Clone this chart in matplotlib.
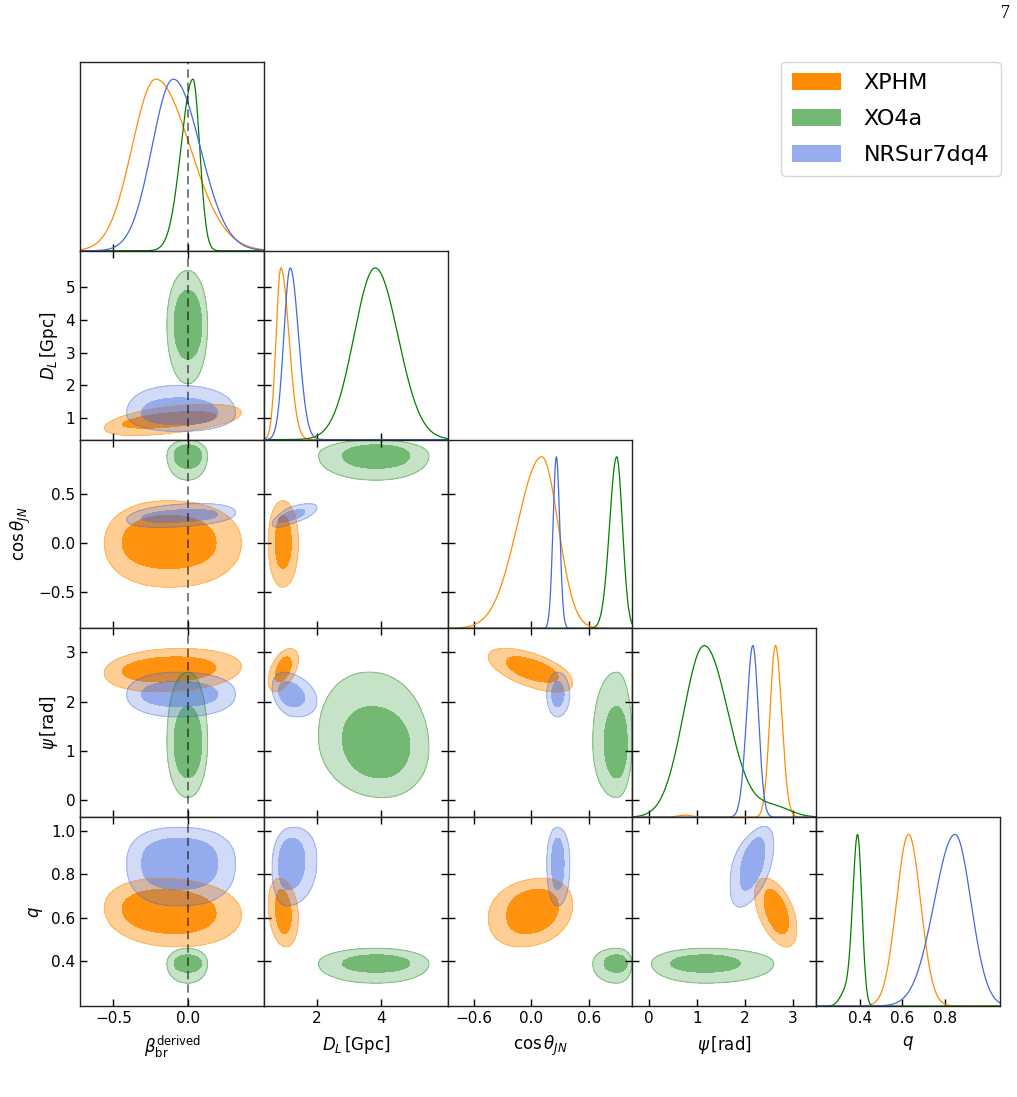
import numpy as np
import matplotlib
matplotlib.use('Agg')
import matplotlib.pyplot as plt
from matplotlib.patches import Patch

# ---------------- data ----------------
LABELS = [r'$\beta_{\rm br}^{\rm derived}$', r'$D_L\,[\mathrm{Gpc}]$',
          r'$\cos\theta_{JN}$', r'$\psi\,[\mathrm{rad}]$', r'$q$']
LIMITS = [(-0.724, 0.513), (0.35, 6.1), (-0.87, 1.053), (-0.35, 3.49), (0.195, 1.062)]
XTICKS = [[-0.5, 0.0], [2, 4], [-0.6, 0.0, 0.6], [0, 1, 2, 3], [0.4, 0.6, 0.8]]
YTICKS = [[], [1, 2, 3, 4, 5], [-0.5, 0.0, 0.5], [0, 1, 2, 3], [0.4, 0.6, 0.8, 1.0]]

MODELS = ['XPHM', 'XO4a', 'NRSur7dq4']
COLORS = ['darkorange', 'green', 'royalblue']

# 1D marginals: mode, left width, right width
XPHM_MODE = [-0.215, 0.875, 0.108, 2.636, 0.629]
XPHM_SLO = [0.159, 0.15, 0.255, 0.115, 0.057]
XPHM_SHI = [0.23, 0.25, 0.17, 0.13, 0.057]
XO4A_MODE = [0.035, 3.82, 0.89, 1.15, 0.389]
XO4A_SLO = [0.08, 0.66, 0.074, 0.43, 0.023]
XO4A_SHI = [0.045, 0.71, 0.06, 0.5, 0.02]
NRSUR_MODE = [-0.097, 1.166, 0.26, 2.165, 0.848]
NRSUR_SLO = [0.143, 0.2, 0.035, 0.13, 0.098]
NRSUR_SHI = [0.18, 0.26, 0.035, 0.115, 0.075]
# secondary bumps in the 1D marginals: (model, param, centre, width, amplitude)
BUMPS = [(0, 3, 0.75, 0.15, 0.012), (1, 3, 2.6, 0.35, 0.06), (1, 4, 0.33, 0.025, 0.08)]

# 2D credible regions: centre, inner (lo, hi), outer (lo, hi), boxiness
XPHM_C = [-0.13, 0.93, 0.0, 2.65, 0.63]
XPHM_IN = [(-0.44, 0.19), (0.70, 1.20), (-0.26, 0.28), (2.40, 2.91), (0.528, 0.73)]
XPHM_OUT = [(-0.56, 0.36), (0.48, 1.42), (-0.45, 0.43), (2.20, 3.08), (0.467, 0.781)]
XPHM_BOX = [2.2, 2.0, 2.2, 2.0, 2.1]
XO4A_C = [0.0, 3.85, 0.89, 1.17, 0.39]
XO4A_IN = [(-0.092, 0.094), (2.8, 4.9), (0.76, 1.0), (0.45, 1.9), (0.35, 0.43)]
XO4A_OUT = [(-0.14, 0.133), (2.05, 5.5), (0.64, 1.05), (0.05, 2.6), (0.30, 0.46)]
XO4A_BOX = [2.1, 2.1, 2.1, 2.1, 2.1]
NRSUR_C = [-0.06, 1.15, 0.27, 2.15, 0.85]
NRSUR_IN = [(-0.31, 0.20), (0.8, 1.62), (0.21, 0.34), (1.9, 2.41), (0.73, 0.965)]
NRSUR_OUT = [(-0.41, 0.32), (0.6, 2.0), (0.16, 0.40), (1.69, 2.6), (0.655, 1.015)]
NRSUR_BOX = [2.45, 2.0, 2.0, 2.0, 2.45]
# correlations for pairs (0,1),(0,2),(0,3),(0,4),(1,2),(1,3),(1,4),(2,3),(2,4),(3,4)
PAIRS = [(0, 1), (0, 2), (0, 3), (0, 4), (1, 2), (1, 3), (1, 4), (2, 3), (2, 4), (3, 4)]
XPHM_RHO = [0.5, 0.0, 0.15, -0.1, 0.0, 0.5, -0.2, -0.6, 0.2, -0.5]
XO4A_RHO = [0.0, 0.0, 0.0, 0.0, 0.0, -0.1, 0.0, 0.0, 0.0, 0.0]
NRSUR_RHO = [0.0, 0.3, 0.0, 0.0, 0.7, -0.3, 0.1, 0.0, 0.0, 0.5]

MARG = [(XPHM_MODE, XPHM_SLO, XPHM_SHI), (XO4A_MODE, XO4A_SLO, XO4A_SHI),
        (NRSUR_MODE, NRSUR_SLO, NRSUR_SHI)]
CONT = [(XPHM_C, XPHM_IN, XPHM_OUT, XPHM_RHO, XPHM_BOX),
        (XO4A_C, XO4A_IN, XO4A_OUT, XO4A_RHO, XO4A_BOX),
        (NRSUR_C, NRSUR_IN, NRSUR_OUT, NRSUR_RHO, NRSUR_BOX)]

ALPHA_OUT = [0.42, 0.22, 0.24]
ALPHA_IN = [0.9, 0.42, 0.42]

# ---------------- figure ----------------
W, H = 1017, 1097
fig = plt.figure(figsize=(W / 100, H / 100), dpi=100)
plt.rcParams['font.family'] = ['DejaVu Sans']
L, R, T, B = 80, 1000.5, 62, 1006
n = 5
cw = (R - L) / n
rh = (B - T) / n


def add_ax(i, j):
    x0 = (L + j * cw) / W
    y0 = 1 - (T + (i + 1) * rh) / H
    return fig.add_axes([x0, y0, cw / W, rh / H])


def split_norm(x, m, sl, sh):
    s = np.where(x < m, sl, sh)
    return np.exp(-0.5 * ((x - m) / s) ** 2)


def region(X, Y, c, ext_x, ext_y, rho, p):
    cx, cy = c
    ax_ = np.where(X < cx, cx - ext_x[0], ext_x[1] - cx)
    ay_ = np.where(Y < cy, cy - ext_y[0], ext_y[1] - cy)
    u = (X - cx) / ax_
    v = (Y - cy) / ay_
    w = (v - rho * u) / np.sqrt(1 - rho ** 2)
    return (np.abs(u) ** p + np.abs(w) ** p) ** (2.0 / p)


tick_kw = dict(direction='in', labelsize=11, length=5, width=1.0)
spine_col = '#222222'

for i in range(n):
    for j in range(i + 1):
        ax = add_ax(i, j)
        for s in ax.spines.values():
            s.set_color(spine_col)
            s.set_linewidth(1.0)
        ax.set_xlim(LIMITS[j])
        if i == j:
            xs = np.linspace(LIMITS[j][0], LIMITS[j][1], 600)
            for k in range(3):
                mode, slo, shi = MARG[k]
                y = split_norm(xs, mode[j], slo[j], shi[j])
                for (mk, pk, bc, bw, ba) in BUMPS:
                    if mk == k and pk == j:
                        y = y + ba * np.exp(-0.5 * ((xs - bc) / bw) ** 2)
                y = y / y.max()
                ax.plot(xs, y, color=COLORS[k], lw=0.9)
            ax.set_ylim(0, 1.1)
            ax.set_yticks([])
            ax.set_xticks(XTICKS[j])
            ax.tick_params(axis='x', bottom=True, top=False, labelbottom=(i == n - 1), **tick_kw)
            if i > 0:
                lo, hi = LIMITS[i]
                sec = ax.secondary_yaxis('left', functions=(
                    lambda d, lo=lo, hi=hi: lo + d / 1.1 * (hi - lo),
                    lambda p, lo=lo, hi=hi: (p - lo) / (hi - lo) * 1.1))
                sec.set_yticks(YTICKS[i])
                sec.tick_params(axis='y', labelleft=False, **tick_kw)
                sec.spines['left'].set_color(spine_col)
        else:
            ax.set_ylim(LIMITS[i])
            xs = np.linspace(LIMITS[j][0], LIMITS[j][1], 300)
            ys = np.linspace(LIMITS[i][0], LIMITS[i][1], 300)
            X, Y = np.meshgrid(xs, ys)
            pidx = PAIRS.index((j, i))
            for k in range(3):
                cen, cin, cout, rhos, box = CONT[k]
                rho = rhos[pidx]
                p = 0.5 * (box[i] + box[j])
                Qo = region(X, Y, (cen[j], cen[i]), cout[j], cout[i], rho, p)
                Qi = region(X, Y, (cen[j], cen[i]), cin[j], cin[i], rho, p)
                ax.contourf(X, Y, Qo, levels=[-1, 1], colors=[COLORS[k]], alpha=ALPHA_OUT[k])
                ax.contour(X, Y, Qo, levels=[1], colors=[COLORS[k]], alpha=0.35, linewidths=0.8)
                ax.contourf(X, Y, Qi, levels=[-1, 1], colors=[COLORS[k]], alpha=ALPHA_IN[k])
            ax.set_xticks(XTICKS[j])
            ax.set_yticks(YTICKS[i])
            ax.tick_params(axis='both', top=True, right=True,
                           labelbottom=(i == n - 1), labelleft=(j == 0), **tick_kw)
        if j == 0:
            ax.axvline(0.0, color='k', ls=(0, (5, 3)), lw=1.2, alpha=0.6, zorder=10)
        if i == n - 1:
            ax.set_xlabel(LABELS[j], fontsize=12, labelpad=6)
        if j == 0 and i > 0:
            ax.set_ylabel(LABELS[i], fontsize=12)

handles = [Patch(facecolor=COLORS[0], alpha=1.0, edgecolor='none'),
           Patch(facecolor=COLORS[1], alpha=0.55, edgecolor='none'),
           Patch(facecolor=COLORS[2], alpha=0.55, edgecolor='none')]
fig.legend(handles, MODELS, loc='upper right', bbox_to_anchor=(R / W, 1 - T / H),
           borderaxespad=0.0, fontsize=16, handlelength=2.2, handleheight=0.8,
           labelspacing=0.7, handletextpad=1.0, borderpad=0.5,
           frameon=True, fancybox=True)

fig.text(1005 / W, 1 - 14 / H, '7', family='Liberation Serif', fontsize=13,
         ha='center', va='center')

fig.savefig('out.png', dpi=100)
